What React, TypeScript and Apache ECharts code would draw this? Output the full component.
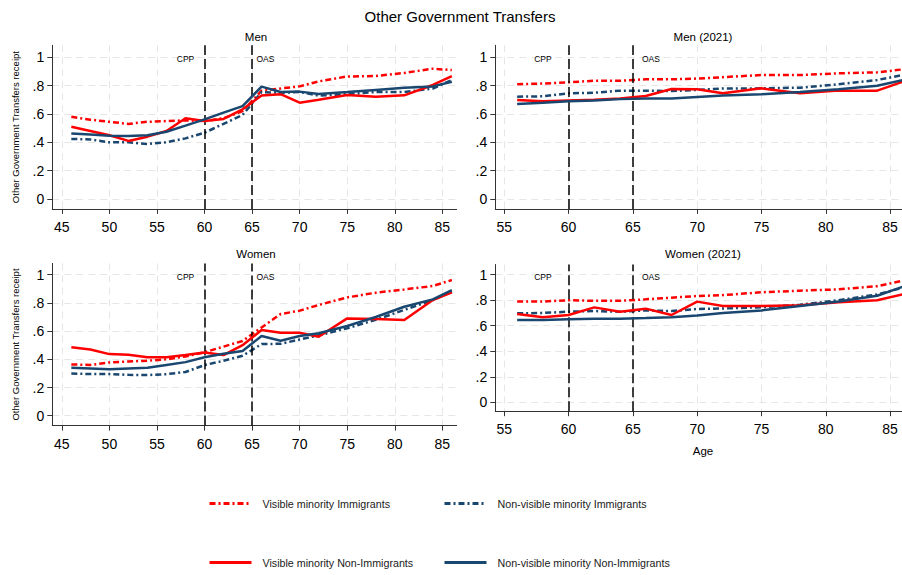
import React, { useEffect, useRef } from "react";
import * as echarts from "echarts";

// ---------- data ----------
const AGES_CENSUS = [46, 48, 50, 52, 54, 56, 58, 60, 62, 64, 66, 68, 70, 72, 75, 78, 81, 84, 86];
const AGES_2021 = [56, 58, 60, 62, 64, 66, 68, 70, 72, 75, 78, 81, 84, 86];

const X_TICKS_LEFT = [45, 50, 55, 60, 65, 70, 75, 80, 85];
const X_TICKS_RIGHT = [55, 60, 65, 70, 75, 80, 85];
const Y_TICKS = [0, 0.2, 0.4, 0.6, 0.8, 1];

const SERIES_NAMES = [
  "Visible minority Immigrants",
  "Non-visible minority Immigrants",
  "Visible minority Non-Immigrants",
  "Non-visible minority Non-Immigrants",
];

// Men
const menVisImm = [0.58, 0.56, 0.545, 0.53, 0.545, 0.55, 0.555, 0.55, 0.57, 0.62, 0.765, 0.78, 0.795, 0.83, 0.865, 0.868, 0.89, 0.92, 0.91];
const menNonVisImm = [0.424, 0.42, 0.4, 0.4, 0.388, 0.4, 0.428, 0.468, 0.53, 0.593, 0.755, 0.75, 0.755, 0.73, 0.74, 0.755, 0.755, 0.78, 0.84];
const menVisNon = [0.51, 0.48, 0.45, 0.41, 0.44, 0.48, 0.57, 0.55, 0.565, 0.633, 0.73, 0.74, 0.68, 0.7, 0.734, 0.722, 0.732, 0.805, 0.868];
const menNonVisNon = [0.463, 0.455, 0.447, 0.445, 0.45, 0.475, 0.518, 0.562, 0.61, 0.656, 0.793, 0.755, 0.758, 0.741, 0.755, 0.77, 0.785, 0.795, 0.828];

// Men (2021)
const men21VisImm = [0.81, 0.815, 0.824, 0.835, 0.835, 0.845, 0.845, 0.85, 0.86, 0.875, 0.875, 0.887, 0.894, 0.915];
const men21NonVisImm = [0.722, 0.725, 0.746, 0.75, 0.765, 0.765, 0.762, 0.77, 0.78, 0.781, 0.786, 0.81, 0.84, 0.875];
const men21VisNon = [0.699, 0.69, 0.695, 0.7, 0.71, 0.727, 0.776, 0.775, 0.746, 0.781, 0.746, 0.765, 0.765, 0.828];
const men21NonVisNon = [0.671, 0.68, 0.69, 0.695, 0.705, 0.71, 0.71, 0.72, 0.73, 0.74, 0.755, 0.775, 0.8, 0.84];

// Women
const womenVisImm = [0.364, 0.36, 0.378, 0.385, 0.39, 0.4, 0.42, 0.45, 0.49, 0.53, 0.626, 0.721, 0.745, 0.785, 0.839, 0.872, 0.895, 0.92, 0.962];
const womenNonVisImm = [0.3, 0.295, 0.295, 0.29, 0.288, 0.295, 0.31, 0.359, 0.39, 0.425, 0.508, 0.51, 0.54, 0.57, 0.62, 0.68, 0.75, 0.82, 0.88];
const womenVisNon = [0.485, 0.47, 0.437, 0.432, 0.414, 0.415, 0.43, 0.449, 0.43, 0.5, 0.608, 0.589, 0.588, 0.56, 0.69, 0.685, 0.678, 0.82, 0.875];
const womenNonVisNon = [0.34, 0.335, 0.329, 0.335, 0.34, 0.36, 0.38, 0.414, 0.44, 0.459, 0.565, 0.532, 0.565, 0.585, 0.636, 0.7, 0.773, 0.825, 0.891];

// Women (2021)
const women21VisImm = [0.789, 0.79, 0.8, 0.795, 0.795, 0.807, 0.82, 0.833, 0.84, 0.862, 0.875, 0.885, 0.91, 0.953];
const women21NonVisImm = [0.697, 0.7, 0.71, 0.715, 0.71, 0.72, 0.715, 0.731, 0.735, 0.745, 0.765, 0.8, 0.845, 0.898];
const women21VisNon = [0.692, 0.666, 0.684, 0.744, 0.71, 0.734, 0.684, 0.789, 0.755, 0.755, 0.76, 0.785, 0.8, 0.846];
const women21NonVisNon = [0.645, 0.645, 0.65, 0.655, 0.655, 0.66, 0.666, 0.68, 0.7, 0.72, 0.755, 0.79, 0.835, 0.906];

// policy reference lines
const POLICY_AGES = [60, 65];
const POLICY_LABELS = ["CPP", "OAS"];
const POLICY_LABEL_AGES = [58, 66.4];
const POLICY_LABEL_Y = 0.985;

const PANEL_TITLES = ["Men", "Men (2021)", "Women", "Women (2021)"];

// ---------- styling ----------
const FONT = "'Liberation Sans', Arial, Helvetica, sans-serif";
const RED = "#ff0000";
const BLUE = "#1a476f";
const SERIES_COLORS = [RED, BLUE, RED, BLUE];
const SERIES_DASHED = [true, true, false, false];
const DASH_DOT = [6, 3, 2, 3];

const GRIDS = [
  { left: 52.3, top: 45.3, width: 404.3, height: 163.6 },
  { left: 495.3, top: 45.3, width: 406.7, height: 163.6 },
  { left: 52.3, top: 263.4, width: 404.3, height: 162.2 },
  { left: 495.3, top: 264.5, width: 406.7, height: 146.7 },
];
const X_RANGES = [
  [44, 86.5],
  [54.3, 85.93],
  [44, 86.5],
  [54.3, 85.93],
];
const Y_RANGES = [
  [-0.07, 1.085],
  [-0.07, 1.085],
  [-0.07, 1.08],
  [-0.07, 1.08],
];

function yFmt(v: number) {
  if (v === 0) return "0";
  if (v === 1) return "1";
  return "." + Math.round(v * 10);
}

export default function App() {
  const ref = useRef<HTMLDivElement>(null);

  useEffect(() => {
    if (!ref.current) return;
    const chart = echarts.init(ref.current, undefined, { renderer: "svg" });

    const panels = [
      { ages: AGES_CENSUS, data: [menVisImm, menNonVisImm, menVisNon, menNonVisNon] },
      { ages: AGES_2021, data: [men21VisImm, men21NonVisImm, men21VisNon, men21NonVisNon] },
      { ages: AGES_CENSUS, data: [womenVisImm, womenNonVisImm, womenVisNon, womenNonVisNon] },
      { ages: AGES_2021, data: [women21VisImm, women21NonVisImm, women21VisNon, women21NonVisNon] },
    ];

    const gridLine = { show: true, lineStyle: { color: "#e6e6e6", width: 1, type: [7, 5] } };
    const axisLineStyle = { color: "#333", width: 1 };

    const xAxis = panels.map((_, i) => {
      const ticks = i % 2 === 0 ? X_TICKS_LEFT : X_TICKS_RIGHT;
      return {
        type: "value",
        gridIndex: i,
        min: X_RANGES[i][0],
        max: X_RANGES[i][1],
        axisLine: { show: true, onZero: false, lineStyle: axisLineStyle },
        axisTick: { show: true, length: 5, lineStyle: axisLineStyle, customValues: ticks },
        axisLabel: {
          customValues: ticks,
          fontSize: 14,
          color: "#000",
          margin: 11,
          fontFamily: FONT,
        },
        splitLine: gridLine,
      };
    });

    const yAxis = panels.map((_, i) => ({
      type: "value",
      gridIndex: i,
      min: Y_RANGES[i][0],
      max: Y_RANGES[i][1],
      name: i % 2 === 0 ? "Other Government Transfers receipt" : "",
      nameLocation: "middle",
      nameRotate: 90,
      nameGap: 32,
      nameTextStyle: { fontSize: 9.5, color: "#000", fontFamily: FONT },
      axisLine: { show: true, onZero: false, lineStyle: axisLineStyle },
      axisTick: { show: true, length: 5, lineStyle: axisLineStyle, customValues: Y_TICKS },
      axisLabel: {
        customValues: Y_TICKS,
        formatter: (v: number) => yFmt(v),
        fontSize: 14,
        color: "#000",
        margin: 8,
        fontFamily: FONT,
      },
      splitLine: gridLine,
    }));

    const series: any[] = [];
    panels.forEach((p, gi) => {
      p.data.forEach((vals, si) => {
        series.push({
          type: "line",
          name: SERIES_NAMES[si],
          xAxisIndex: gi,
          yAxisIndex: gi,
          data: p.ages.map((a, k) => [a, vals[k]]),
          symbol: "none",
          clip: true,
          z: 3 + si,
          lineStyle: {
            color: SERIES_COLORS[si],
            width: 2.5,
            type: SERIES_DASHED[si] ? DASH_DOT : "solid",
          },
          itemStyle: { color: SERIES_COLORS[si] },
          markLine:
            si === 0
              ? {
                  silent: true,
                  symbol: ["none", "none"],
                  label: { show: false },
                  lineStyle: { color: "#000", type: [10, 4], width: 1.5 },
                  data: POLICY_AGES.map((a) => ({ xAxis: a })),
                }
              : undefined,
        });
      });
      series.push({
        type: "custom",
        name: "policy labels",
        xAxisIndex: gi,
        yAxisIndex: gi,
        silent: true,
        z: 10,
        data: POLICY_LABEL_AGES.map((a) => [a, POLICY_LABEL_Y]),
        renderItem: (params: any, api: any) => {
          const pt = api.coord([api.value(0), api.value(1)]);
          return {
            type: "text",
            x: pt[0],
            y: pt[1],
            style: {
              text: POLICY_LABELS[params.dataIndex],
              fill: "#000",
              font: `8.5px ${FONT}`,
              align: "center",
              verticalAlign: "middle",
            },
          };
        },
      });
    });

    const legendPos = [
      { left: 208, top: 498 },
      { left: 443, top: 498 },
      { left: 208, top: 557 },
      { left: 443, top: 557 },
    ];
    const legend = SERIES_NAMES.map((n, i) => ({
      data: [n],
      left: legendPos[i].left,
      top: legendPos[i].top,
      padding: 0,
      itemWidth: 42,
      itemHeight: 14,
      selectedMode: false,
      itemStyle: { opacity: 0 },
      lineStyle: { width: 3 },
      textStyle: { fontSize: 10.7, color: "#1a1a1a", fontFamily: FONT, padding: [0, 0, 0, 6] },
    }));

    const titleCenters = [
      [256, 37],
      [703, 37],
      [256, 254],
      [703, 254],
    ];
    const graphic: any[] = [
      {
        type: "text",
        x: 460,
        y: 16,
        style: {
          text: "Other Government Transfers",
          font: `15px ${FONT}`,
          fill: "#000",
          align: "center",
          verticalAlign: "middle",
        },
      },
      ...PANEL_TITLES.map((t, i) => ({
        type: "text",
        x: titleCenters[i][0],
        y: titleCenters[i][1],
        style: {
          text: t,
          font: `11.5px ${FONT}`,
          fill: "#000",
          align: "center",
          verticalAlign: "middle",
        },
      })),
      {
        type: "text",
        x: 703,
        y: 451,
        style: {
          text: "Age",
          font: `11.5px ${FONT}`,
          fill: "#000",
          align: "center",
          verticalAlign: "middle",
        },
      },
    ];

    chart.setOption({
      animation: false,
      backgroundColor: "#fff",
      grid: GRIDS.map((g) => ({ ...g, containLabel: false })),
      xAxis,
      yAxis,
      series,
      legend,
      graphic,
    });

    return () => chart.dispose();
  }, []);

  return (
    <div
      ref={ref}
      style={{ position: "absolute", left: 0, top: 0, width: 902, height: 575, background: "#fff" }}
    />
  );
}
